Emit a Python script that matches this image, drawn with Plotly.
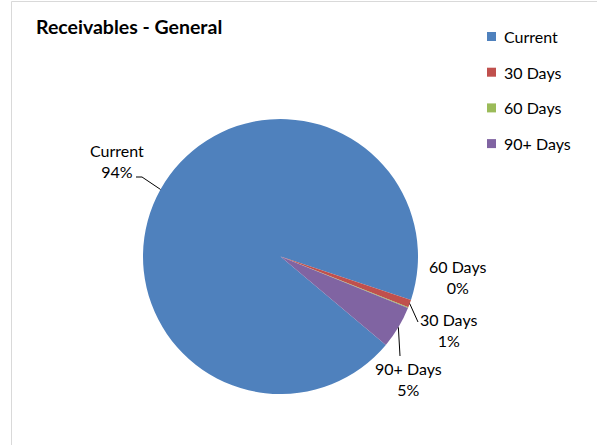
import math
import plotly.graph_objects as go

# ---- data ----
categories = ["Current", "30 Days", "60 Days", "90+ Days"]
values = [94.0, 0.9, 0.1, 5.0]
colors = ["#4F81BD", "#C0504D", "#9BBB59", "#8064A2"]
title_text = "Receivables - General"

# ---- layout geometry (pixels, in window coordinates) ----
W, H = 597, 445
OFF = 0            # body margin removed via post_script
FW, FH = W - OFF, H - OFF
CX, CY, R = 280.5, 256.5, 137.5
ROT = 130  # degrees clockwise from 12 o'clock where the first slice starts
FONT = "Lato"
TXT = "#000000"

def px(x):
    return (x - OFF) / FW

def py(y):
    return 1 - (y - OFF) / FH

fig = go.Figure(
    go.Pie(
        labels=categories,
        values=values,
        sort=False,
        direction="clockwise",
        rotation=ROT,
        marker=dict(colors=colors, line=dict(width=0)),
        textinfo="none",
        hoverinfo="label+percent",
        showlegend=False,
        domain=dict(x=[px(CX - R), px(CX + R)], y=[py(CY + R), py(CY - R)]),
    )
)

# slice mid angles from the data
total = sum(values)
mids = []
acc = 0.0
for v in values:
    mids.append(ROT + (acc + v / 2) / total * 360)
    acc += v

def edge(i):
    a = math.radians(mids[i])
    return CX + R * math.sin(a), CY - R * math.cos(a)

# label placement (text centre, leader path end points) in pixels
label_pos = {
    "Current": dict(text=(117, 161), path=[(142, 177), (136, 177)]),
    "30 Days": dict(text=(448, 330), path=[(418, 322)]),
    "60 Days": dict(text=(457, 277), path=[]),
    "90+ Days": dict(text=(408, 379), path=[(400, 356)]),
}

shapes = []
annotations = []
for i, (cat, v) in enumerate(zip(categories, values)):
    pct = round(v / total * 100)
    lp = label_pos[cat]
    annotations.append(dict(
        x=px(lp["text"][0]), y=py(lp["text"][1]), xref="paper", yref="paper",
        text=f"{cat}<br>{pct}%", showarrow=False, xanchor="center", yanchor="middle",
        font=dict(family=FONT, size=16, color=TXT), align="center",
    ))
    if lp["path"]:
        pts = [edge(i)] + lp["path"]
        d = "M " + " L ".join(f"{px(x)} {py(y)}" for x, y in pts)
        shapes.append(dict(type="path", xref="paper", yref="paper", path=d,
                           line=dict(color="#000000", width=1)))

# manual legend
LEG_X, LEG_Y0, LEG_DY, SQ = 491.5, 36.5, 35.7, 9
for i, (cat, col) in enumerate(zip(categories, colors)):
    yc = LEG_Y0 + i * LEG_DY
    shapes.append(dict(type="rect", xref="paper", yref="paper",
                       x0=px(LEG_X - SQ / 2), x1=px(LEG_X + SQ / 2),
                       y0=py(yc + SQ / 2), y1=py(yc - SQ / 2),
                       fillcolor=col, line=dict(width=0)))
    annotations.append(dict(x=px(502), y=py(yc), xref="paper", yref="paper",
                            text=cat, showarrow=False, xanchor="left", yanchor="middle",
                            font=dict(family=FONT, size=16, color=TXT)))

# title
annotations.append(dict(x=px(34), y=py(27), xref="paper", yref="paper",
                        text=f"<b>{title_text}</b>", showarrow=False,
                        xanchor="left", yanchor="middle",
                        font=dict(family=FONT, size=19.5, color=TXT)))

# chart area border (left and top edges visible)
shapes.append(dict(type="rect", xref="paper", yref="paper",
                   x0=px(11.5), x1=1.2, y0=-0.2, y1=py(1.5),
                   line=dict(color="#D9D9D9", width=1), fillcolor="rgba(0,0,0,0)"))

fig.update_layout(
    width=FW, height=FH,
    margin=dict(l=0, r=0, t=0, b=0),
    paper_bgcolor="white", plot_bgcolor="white",
    shapes=shapes, annotations=annotations,
    font=dict(family=FONT),
)

fig.write_html("out.html", config={"displayModeBar": False},
               post_script="document.body.style.margin='0';")
